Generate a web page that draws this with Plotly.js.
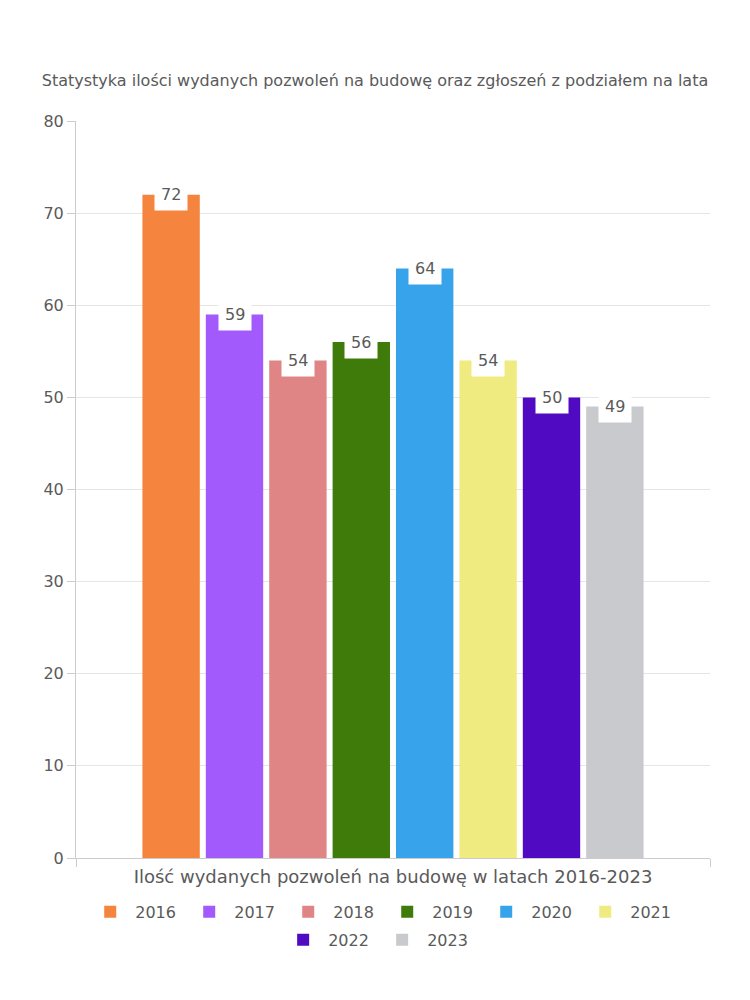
<!DOCTYPE html>
<html>
<head>
<meta charset="utf-8">
<script src="https://cdn.plot.ly/plotly-3.0.1.min.js"></script>
<style>html,body{margin:0;padding:0;background:#fff;}#chart{width:750px;height:1000px;}</style>
</head>
<body>
<div id="chart"></div>
<script>
const years = ["2016","2017","2018","2019","2020","2021","2022","2023"];
const values = [72, 59, 54, 56, 64, 54, 50, 49];
const colors = ["#F5843F","#A25AFC","#E08585","#3E7B0B","#37A3EA","#F0EB80","#500BC2","#C9CACD"];
const category = [""];
const chartTitle = "Statystyka ilości wydanych pozwoleń na budowę oraz zgłoszeń z podziałem na lata";
const xTitle = "Ilość wydanych pozwoleń na budowę w latach 2016-2023";

const W = 750, H = 1000;
const margin = {l: 76, r: 40, t: 121, b: 142, pad: 0};
const bargap = 0.2, bargroupgap = 0.095;
const plotW = W - margin.l - margin.r;
const slot = plotW * (1 - bargap) / years.length;

const font = "'DejaVu Sans', sans-serif";
const txtColor = "#5a5a5a";
const traces = years.map((y, i) => ({
  type: "bar",
  name: y,
  x: category,
  y: [values[i]],
  marker: {color: colors[i]},
  legend: i < 6 ? "legend" : "legend2",
  hoverinfo: "name+y"
}));

const annotations = years.map((y, i) => ({
  x: 0, y: values[i], xref: "x", yref: "y",
  xshift: (i - (years.length - 1) / 2) * slot,
  yshift: 0,
  text: String(values[i]),
  showarrow: false,
  bgcolor: "#ffffff",
  borderpad: 6,
  font: {family: font, size: 16, color: txtColor},
  xanchor: "center", yanchor: "middle"
}));

const legendBase = {
  orientation: "h", xanchor: "center", yanchor: "top",
  font: {family: font, size: 16, color: txtColor},
  entrywidth: 44, itemwidth: 40, traceorder: "normal",
  bgcolor: "rgba(0,0,0,0)"
};

const layout = {
  width: W, height: H,
  margin: margin,
  paper_bgcolor: "#ffffff", plot_bgcolor: "#ffffff",
  font: {family: font, color: txtColor, size: 16},
  title: {text: chartTitle, x: 0.5, xanchor: "center", y: 1 - 80 / H, yanchor: "middle", font: {family: font, size: 16, color: txtColor}},
  barmode: "group",
  bargap: bargap, bargroupgap: bargroupgap,
  xaxis: {
    type: "category",
    tickson: "boundaries",
    ticks: "outside", ticklen: 8, tickcolor: "#cccccc",
    showgrid: true, gridcolor: "#e5e5e5",
    showline: true, linecolor: "#cccccc",
    showticklabels: false,
    title: {text: xTitle, standoff: 12, font: {family: font, size: 18, color: txtColor}},
    fixedrange: true
  },
  yaxis: {
    range: [0, 80], dtick: 10, tick0: 0,
    ticks: "outside", ticklen: 8, tickcolor: "#cccccc",
    showgrid: true, gridcolor: "#e5e5e5",
    showline: true, linecolor: "#cccccc",
    zeroline: false,
    tickfont: {family: font, size: 16, color: txtColor},
    fixedrange: true
  },
  legend: Object.assign({}, legendBase, {x: 0.483, y: -0.05}),
  legend2: Object.assign({}, legendBase, {x: 0.475, y: -0.088}),
  annotations: annotations,
  showlegend: true
};

Plotly.newPlot("chart", traces, layout, {displayModeBar: false, staticPlot: true});
</script>
</body>
</html>
